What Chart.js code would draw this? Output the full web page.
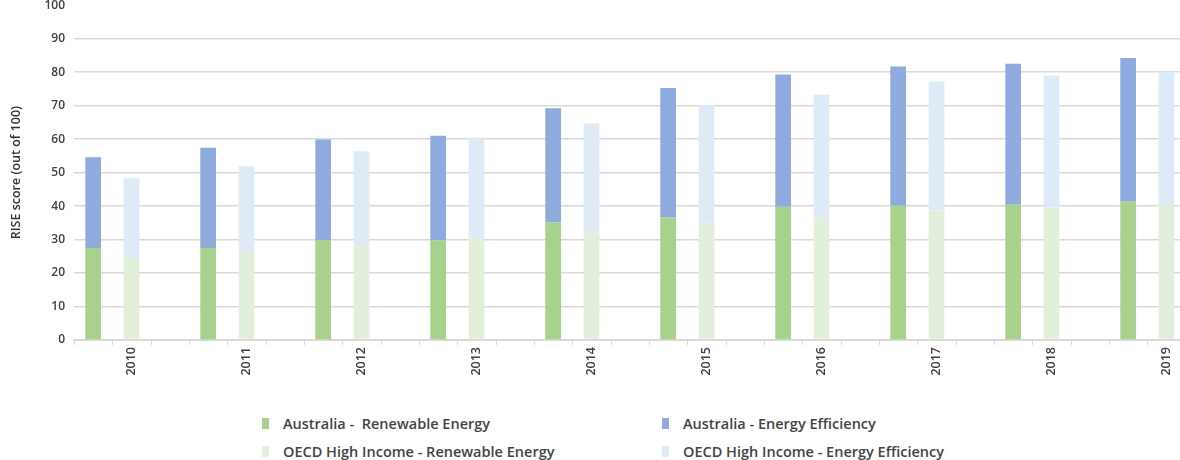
<!DOCTYPE html>
<html>
<head>
<meta charset="utf-8">
<script src="https://cdn.jsdelivr.net/npm/chart.js@4/dist/chart.umd.min.js"></script>
<style>
  html, body { margin: 0; padding: 0; background: #fff; overflow: hidden; }
  body { width: 1180px; height: 460px; position: relative; font-family: "Open Sans", sans-serif; }
  #wrap { position: absolute; left: 0; top: -11px; width: 1224px; height: 406px; }
  #legend { position: absolute; left: 262px; top: 413px; display: grid;
    grid-template-columns: 400px 400px; row-gap: 8px; }
  .item { display: flex; align-items: center; font-size: 14.5px; font-weight: 600; color: #444; height: 20px; }
  .box { width: 7px; height: 11px; margin-right: 14px; }
</style>
</head>
<body>
<div id="wrap"><canvas id="riseChart"></canvas></div>
<div id="legend"></div>
<script>
document.addEventListener("DOMContentLoaded", function () {
  const years = ["2010", "2011", "2012", "2013", "2014", "2015", "2016", "2017", "2018", "2019"];
  const ausRenewable = [27.5, 27.5, 29.9, 29.8, 35.2, 36.6, 39.8, 40.1, 40.4, 41.3];
  const ausEfficiency = [27.1, 29.9, 30.0, 31.2, 34.0, 38.7, 39.5, 41.6, 42.1, 42.9];
  const oecdRenewable = [24.5, 26.3, 28.0, 30.5, 31.9, 34.7, 36.6, 38.7, 39.6, 40.1];
  const oecdEfficiency = [23.8, 25.6, 28.4, 30.0, 32.8, 35.4, 36.7, 38.5, 39.4, 40.0];
  const yTicks = [0, 10, 20, 30, 40, 50, 60, 70, 80, 90, 100];

  const gridGray = "#d9d9d9";
  const textGray = "#404040";

  const seriesList = [
    { label: "Australia -  Renewable Energy", data: ausRenewable, color: "#a9d18e", stack: "aus" },
    { label: "Australia - Energy Efficiency", data: ausEfficiency, color: "#8faadc", stack: "aus" },
    { label: "OECD High Income - Renewable Energy", data: oecdRenewable, color: "#e2efda", stack: "oecd" },
    { label: "OECD High Income - Energy Efficiency", data: oecdEfficiency, color: "#deebf7", stack: "oecd" },
  ];

  const datasets = seriesList.map((s) => ({
    label: s.label,
    data: s.data,
    backgroundColor: s.color,
    stack: s.stack,
    barPercentage: 0.41,
    categoryPercentage: 1,
  }));
  // empty third slot in every year group
  datasets.push({
    label: "",
    data: years.map(() => null),
    stack: "gap",
    barPercentage: 0.41,
    categoryPercentage: 1,
  });

  // small tick marks between the slots of each year group
  const slotTicks = {
    id: "slotTicks",
    afterDraw(chart) {
      const x = chart.scales.x;
      const ctx = chart.ctx;
      const w = (x.right - x.left) / years.length;
      ctx.save();
      ctx.strokeStyle = gridGray;
      ctx.lineWidth = 1;
      for (let i = 0; i < years.length; i++) {
        for (let k = 1; k < 3; k++) {
          const px = Math.round(x.left + i * w + (k * w) / 3) + 0.5;
          ctx.beginPath();
          ctx.moveTo(px, x.top);
          ctx.lineTo(px, x.top + 5);
          ctx.stroke();
        }
      }
      ctx.restore();
    },
  };

  new Chart(document.getElementById("riseChart"), {
    type: "bar",
    data: { labels: years, datasets: datasets },
    plugins: [slotTicks],
    options: {
      responsive: true,
      maintainAspectRatio: false,
      animation: false,
      layout: { padding: { left: 0, right: 0, top: 0, bottom: 0 } },
      plugins: { legend: { display: false }, tooltip: { enabled: false } },
      scales: {
        x: {
          stacked: true,
          offset: true,
          grid: { offset: true, drawOnChartArea: false, color: gridGray, tickLength: 5 },
          border: { display: true, color: gridGray, width: 2 },
          ticks: {
            minRotation: 90,
            maxRotation: 90,
            padding: 2,
            color: textGray,
            font: { family: "Open Sans", size: 12.5, weight: "600" },
          },
          afterFit(scale) { scale.height = 55; },
        },
        y: {
          stacked: true,
          min: 0,
          max: 100,
          afterBuildTicks(scale) { scale.ticks = yTicks.map((v) => ({ value: v })); },
          grid: {
            drawTicks: false,
            lineWidth: 1.5,
            color: (c) => (c.tick && c.tick.value === 100 ? "rgba(0,0,0,0)" : gridGray),
          },
          border: { display: false },
          ticks: {
            padding: 9,
            color: textGray,
            font: { family: "Open Sans", size: 12, weight: "600" },
          },
          title: {
            display: true,
            text: "RISE score (out of 100)",
            color: "#333",
            padding: { top: 9, bottom: 0 },
            font: { family: "Open Sans", size: 12.5, weight: "600" },
          },
          afterFit(scale) { scale.width = 74; },
        },
      },
    },
  });

  const legend = document.getElementById("legend");
  seriesList.forEach((s) => {
    const item = document.createElement("div");
    item.className = "item";
    const box = document.createElement("span");
    box.className = "box";
    box.style.background = s.color;
    const text = document.createElement("span");
    text.textContent = s.label;
    text.style.whiteSpace = "pre";
    item.appendChild(box);
    item.appendChild(text);
    legend.appendChild(item);
  });
});
</script>
</body>
</html>
